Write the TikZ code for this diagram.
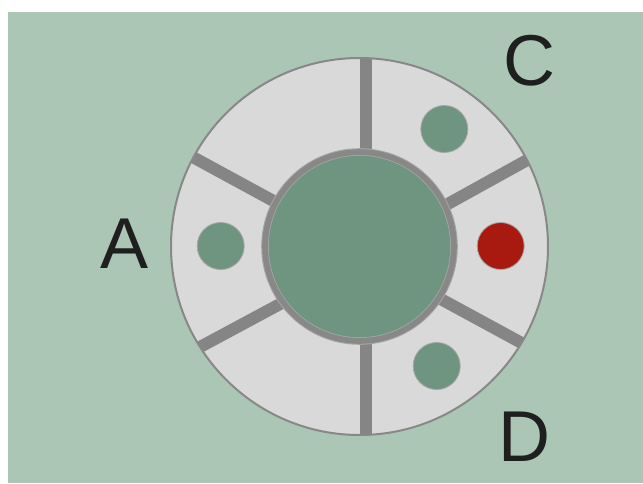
\documentclass[tikz,border=0pt]{standalone}
\usepackage{fontspec}
\setmainfont{Liberation Sans}
\definecolor{bg}{HTML}{ABC6B5}
\definecolor{disc}{HTML}{D9D9D9}
\definecolor{rim}{HTML}{888888}
\definecolor{bar}{HTML}{858585}
\definecolor{hub}{HTML}{6F9480}
\definecolor{hubedge}{HTML}{A6A6A6}
\definecolor{hot}{HTML}{A81A10}
\tikzset{
  divider/.style={bar, line width=12pt},
  dot/.style={circle, minimum size=47pt, inner sep=0pt, draw=hubedge, line width=0.8pt},
  letter/.style={font=\fontsize{72}{72}\selectfont, text=black!88, inner sep=0pt}
}
\begin{document}
\begin{tikzpicture}[x=1pt,y=-1pt]
\useasboundingbox (0,0) rectangle (643,483);
\fill[white] (0,0) rectangle (643,483);
\fill[bg] (8,12) rectangle (643,483);
% centre
\coordinate (O) at (359.5,246.5);
% outer disc
\fill[disc] (O) circle (188.5);
\begin{scope}
  \clip (O) circle (188.5);
  \coordinate (t1) at (366,200); \coordinate (t2) at (366,40);
  \coordinate (b1) at (366,300); \coordinate (b2) at (366,450);
  \coordinate (ul1) at (330,231.7); \coordinate (ul2) at (170,144.7);
  \coordinate (ll1) at (330,277.2); \coordinate (ll2) at (175,360.4);
  \coordinate (ur1) at (400,230.4); \coordinate (ur2) at (560,141.9);
  \coordinate (lr1) at (400,276.9); \coordinate (lr2) at (560,363.8);
  \draw[divider] (t1) -- (t2);
  \draw[divider] (b1) -- (b2);
  \draw[divider] (ul1) -- (ul2);
  \draw[divider] (ll1) -- (ll2);
  \draw[divider] (ur1) -- (ur2);
  \draw[divider] (lr1) -- (lr2);
\end{scope}
\draw[rim, line width=2pt] (O) circle (188.5);
% hub
\fill[hubedge] (O) circle (98.3);
\fill[rim] (O) circle (97.3);
\fill[hubedge] (O) circle (91.5);
\fill[hub] (O) circle (90.7);
% dots
\node[dot, fill=hub] (dA) at (220.7,246) {};
\node[dot, fill=hub] (dC) at (444.3,129) {};
\node[dot, fill=hub] (dD) at (436.7,366) {};
\node[dot, fill=hot] (dR) at (500.7,246) {};
% labels
\node[letter] (A) at (124.5,243.5) {A};
\node[letter] (C) at (529,61) {C};
\node[letter] (D) at (524,436.5) {D};
\end{tikzpicture}
\end{document}
